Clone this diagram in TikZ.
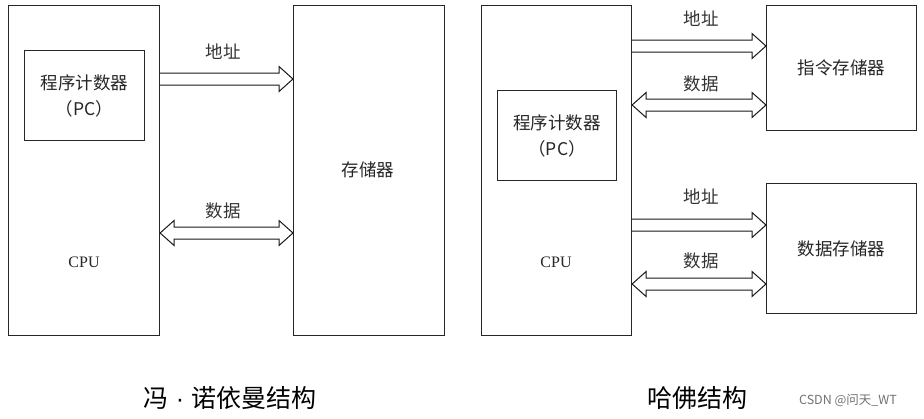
\documentclass[tikz,border=0pt]{standalone}
\usepackage{fontspec}
\setmainfont{Liberation Serif}
\newfontfamily\cjk{Noto Sans CJK SC}
\newfontfamily\latinsans{Liberation Sans}
\usetikzlibrary{calc}
\tikzset{
  box/.style={draw=black!85, line width=1.1pt},
  lbl/.style={font=\cjk\fontsize{17.5}{20}\selectfont, text=black!80, inner sep=0pt},
  boxtext/.style={font=\cjk\fontsize{17.5}{26}\selectfont, text=black!85},
  caption/.style={font=\cjk\fontsize{25}{28}\selectfont, text=black, inner sep=0pt},
  bus/.style={draw=black!90, line width=1pt, line join=miter}
}
\newcommand\oneway[2]{%
  \draw[bus] ($(#1)+(0,-6)$) -- ($(#2)+(-14,-6)$) -- ($(#2)+(-14,-12.5)$) -- (#2)
    -- ($(#2)+(-14,12.5)$) -- ($(#2)+(-14,6)$) -- ($(#1)+(0,6)$);}
\newcommand\twoway[2]{%
  \draw[bus] (#1) -- ($(#1)+(14,-12.5)$) -- ($(#1)+(14,-6)$) -- ($(#2)+(-14,-6)$)
    -- ($(#2)+(-14,-12.5)$) -- (#2) -- ($(#2)+(-14,12.5)$) -- ($(#2)+(-14,6)$)
    -- ($(#1)+(14,6)$) -- ($(#1)+(14,12.5)$) -- cycle;}
\begin{document}
\begin{tikzpicture}[x=1pt,y=-1pt]
\useasboundingbox[fill=white] (0,0) rectangle (924,418);
% ---- von Neumann ----
\node[box, minimum width=151, minimum height=330, inner sep=0pt, anchor=north west] (cpuL) at (8,5) {};
\node[font=\fontsize{16}{18}\selectfont, text=black!85] (cpuLt) at (84,262) {CPU};
\node[box, boxtext, minimum width=120, minimum height=90, inner sep=0pt, anchor=north west, align=center] (pcL) at (24,50) {程序计数器\\（PC）};
\node[box, minimum width=151, minimum height=330, inner sep=0pt, anchor=north west] (memL) at (293,5) {};
\node[boxtext] (memLt) at (368,170) {存储器};
\coordinate (aLs) at (cpuL.east |- 0,79);
\coordinate (aLe) at (memL.west |- 0,79);
\coordinate (dLs) at (cpuL.east |- 0,233);
\coordinate (dLe) at (memL.west |- 0,233);
\oneway{aLs}{aLe}
\twoway{dLs}{dLe}
\node[lbl] (aLl) at (223,52) {地址};
\node[lbl] (dLl) at (223,211) {数据};
\node[caption] (capL) at (230,398) {冯{\latinsans\ ·\ }诺依曼结构};
% ---- Harvard ----
\node[box, minimum width=150, minimum height=330, inner sep=0pt, anchor=north west] (cpuR) at (481,5) {};
\node[font=\fontsize{16}{18}\selectfont, text=black!85] (cpuRt) at (556,262) {CPU};
\node[box, boxtext, minimum width=119, minimum height=90, inner sep=0pt, anchor=north west, align=center] (pcR) at (497,90) {程序计数器\\（PC）};
\node[box, boxtext, minimum width=150, minimum height=125, inner sep=0pt, anchor=north west] (imem) at (766,5) {指令存储器};
\node[box, boxtext, minimum width=150, minimum height=130, inner sep=0pt, anchor=north west] (dmem) at (766,183) {数据存储器};
\coordinate (a1s) at (cpuR.east |- 0,46);
\coordinate (a1e) at (imem.west |- 0,46);
\coordinate (d1s) at (cpuR.east |- 0,105);
\coordinate (d1e) at (imem.west |- 0,105);
\coordinate (a2s) at (cpuR.east |- 0,225);
\coordinate (a2e) at (dmem.west |- 0,225);
\coordinate (d2s) at (cpuR.east |- 0,284);
\coordinate (d2e) at (dmem.west |- 0,284);
\oneway{a1s}{a1e}
\twoway{d1s}{d1e}
\oneway{a2s}{a2e}
\twoway{d2s}{d2e}
\node[lbl] (a1l) at (701,19) {地址};
\node[lbl] (d1l) at (701,84) {数据};
\node[lbl] (a2l) at (701,197) {地址};
\node[lbl] (d2l) at (701,261) {数据};
\node[caption] (capR) at (697,398) {哈佛结构};
\node[font=\cjk\fontsize{12.5}{14}\selectfont, text=black!55, inner sep=0pt] (wm) at (848,400) {CSDN @问天\_WT};
\end{tikzpicture}
\end{document}
